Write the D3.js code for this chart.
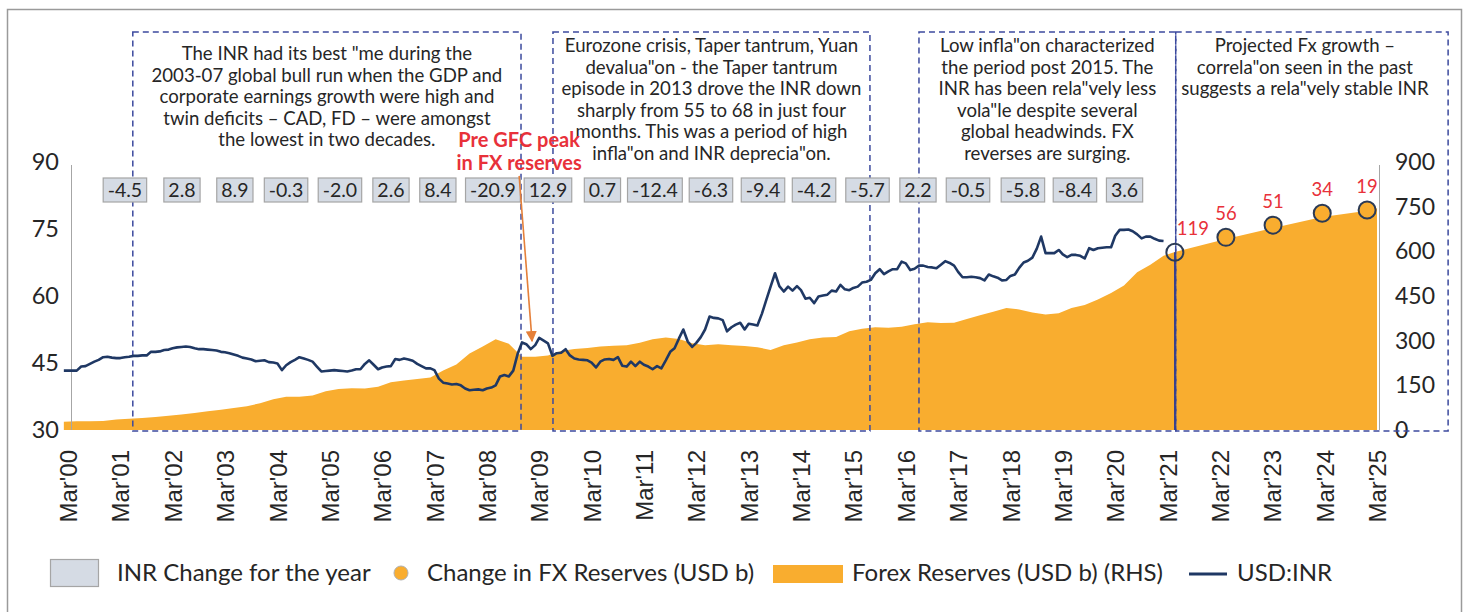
<!DOCTYPE html>
<html><head><meta charset="utf-8">
<script src="https://cdn.jsdelivr.net/npm/d3@7"></script>
<style>
html,body{margin:0;padding:0;background:#fff;}
svg{display:block;}
</style></head>
<body><svg id="chart" width="1466" height="612"></svg>
<script>
// ================= DATA =================
// USD:INR, monthly, starting Feb 2000
const inrStart = "2000-02";
const inrValues = [
  43.3,43.3,43.3,43.3,44.2,44.3,44.8,45.3,45.7,46.3,46.4,            // 2000 Feb-Dec
  46.2,46.1,46.1,46.3,46.4,46.6,46.6,46.7,46.7,47.5,47.5,47.6,       // 2001
  47.9,48.0,48.3,48.5,48.6,48.7,48.6,48.3,48.1,48.1,48.0,47.9,       // 2002
  47.8,47.5,47.4,47.2,46.9,46.6,46.2,46.0,45.8,45.4,45.5,45.6,       // 2003
  45.2,45.1,44.9,43.4,44.5,45.2,45.7,46.3,46.0,45.7,45.3,44.2,       // 2004
  43.1,43.2,43.3,43.4,43.3,43.2,43.1,43.3,43.6,43.6,44.8,45.6,       // 2005
  44.6,43.6,44.0,44.2,44.3,45.9,45.7,46.0,45.8,45.5,44.8,44.3,       // 2006
  43.8,43.8,43.4,41.5,40.6,40.4,40.2,40.3,40.0,39.3,38.9,39.0,       // 2007
  39.1,38.9,39.3,39.5,40.0,42.0,42.3,42.0,43.3,47.0,49.6,49.2,       // 2008
  48.1,49.0,50.6,50.0,49.4,46.6,47.2,47.3,48.1,46.7,46.0,45.8,       // 2009
  45.7,45.6,45.1,44.0,45.3,45.8,45.9,45.7,46.3,44.4,44.2,45.3,       // 2010
  44.3,45.3,44.6,44.2,43.6,44.3,43.8,45.6,47.5,48.3,50.5,52.5,       // 2011
  49.8,48.6,49.5,50.8,52.5,55.4,55.1,55.0,54.6,52.1,53.0,53.6,       // 2012
  54.0,52.5,53.8,53.6,53.4,56.0,59.0,62.1,65.1,62.2,61.0,62.1,       // 2013
  61.2,62.2,61.3,59.4,59.6,58.4,59.9,60.1,60.3,61.2,61.0,62.5,       // 2014
  61.5,61.3,61.8,62.1,63.0,63.2,63.6,65.1,66.0,64.9,65.5,66.0,       // 2015
  66.0,67.7,67.3,65.8,66.1,66.8,66.8,66.5,66.4,66.2,67.0,67.8,       // 2016
  67.4,66.8,65.4,64.2,64.2,64.3,64.2,64.0,63.5,64.8,64.4,64.1,       // 2017
  63.5,63.6,64.5,64.8,66.3,67.5,67.9,68.6,70.6,73.3,69.6,69.6,       // 2018
  69.6,70.3,69.3,68.7,69.2,69.2,69.0,68.4,70.7,70.3,70.7,70.8,       // 2019
  70.9,70.9,73.5,74.8,74.8,74.9,74.5,73.8,72.9,73.3,73.3,72.8,       // 2020
  72.4,72.3                                                          // 2021 Jan-Feb
];

// Forex reserves (USD b), every 3 months starting Feb 2000
const reserveStart = "2000-02";
const reserveStepMonths = 3;
const reserveValues = [
  28,29,29,30, 35,38,40,44, 48,52,57,63, 68,74,80,90, 103,112,112,116,
  130,138,140,139, 145,160,166,171, 176,200,220,257, 280,305,290,246,
  246,250,265,272, 275,280,283,285, 293,305,311,306, 291,285,288,285,
  282,278,269,285, 294,305,311,312, 332,340,345,343, 347,355,362,359,
  360,373,385,397, 410,405,395,388, 392,410,420,438, 460,485,530,555, 585
];
// Projected forex reserves (area continuation)
const reserveProjDates = ["2021-04-21","2022-04-12","2023-03-07","2024-02-13","2024-12-22","2025-03-01"];
const reserveProjValues = [598, 641, 678, 715, 736, 745];

// Change in FX reserves (USD b): marker positions and labels
const fxChangeDates = ["2021-04-21","2022-04-12","2023-03-07","2024-02-13","2024-12-22"];
const fxChangeLevels = [597, 647, 688, 728, 739];
const fxChangeLabels = [119, 56, 51, 34, 19];

// INR change for the year (%), one box per fiscal year
const inrChangeDates = ["2001-04-02","2002-05-05","2003-05-09","2004-04-30","2005-05-11",
                        "2006-05-02","2007-03-25","2008-04-12","2009-05-01","2010-05-16",
                        "2011-05-17","2012-06-11","2013-06-09","2014-05-31","2015-06-08",
                        "2016-05-25","2017-05-09","2018-05-27","2019-05-25","2020-05-05"];
const inrChangeValues = [-4.5,2.8,8.9,-0.3,-2.0,2.6,8.4,-20.9,12.9,0.7,
                         -12.4,-6.3,-9.4,-4.2,-5.7,2.2,-0.5,-5.8,-8.4,3.6];

// Axis ticks
const tickYears = d3.range(2000, 2026);
const leftTicks = [30,45,60,75,90];
const rightTicks = [0,150,300,450,600,750,900];

// Period annotations
const noteStarts = ["2001-05-27","2009-06-05","2016-06-01","2021-04-27"];
const noteEnds   = ["2008-10-25","2015-06-25","2021-04-27","2026-07-10"];
const noteLines = [
  ["The INR had its best \"me during the","2003-07 global bull run when the GDP and","corporate earnings growth were high and","twin deficits \u2013 CAD, FD \u2013 were amongst","the lowest in two decades."],
  ["Eurozone crisis, Taper tantrum, Yuan","devalua\"on - the Taper tantrum","episode in 2013 drove the INR down","sharply from 55 to 68 in just four","months. This was a period of high","infla\"on and INR deprecia\"on."],
  ["Low infla\"on characterized","the period post 2015. The","INR has been rela\"vely less","vola\"le despite several","global headwinds. FX","reverses are surging."],
  ["Projected Fx growth \u2013","correla\"on seen in the past","suggests a rela\"vely stable INR"]
];
const gfcLabel = ["Pre GFC peak","in FX reserves"];

// ================= STYLE =================
const C = {
  orange: "#F9AD2F", navy: "#1F3864", dash: "#3C4A9E", red: "#E8313A",
  arrow: "#E5803A", boxFill: "#D5DBE4", boxStroke: "#A5A5A5", text: "#262626",
  axis: "#A6A6A6", frame: "#9A9A9A", marker: "#2B3A55"
};
const FONT = "Lato, 'Noto Sans', sans-serif";

// ================= CHART =================
const svg = d3.select("#chart");
const pM = d3.timeParse("%Y-%m"), pD = d3.timeParse("%Y-%m-%d");

const x = d3.scaleTime().domain([new Date(2000,2,1), new Date(2025,2,1)]).range([68, 1377]);
const yL = d3.scaleLinear().domain([30,90]).range([430,162]);
const yR = d3.scaleLinear().domain([0,900]).range([430,162]);
const yBottom = 430;

// frame
svg.append("path").attr("d","M7.5,615V9.5H1461.5V615").attr("fill","none")
  .attr("stroke",C.frame).attr("stroke-width",1.5);

// area: forex reserves
const inrData = inrValues.map((v,i)=>({date:d3.timeMonth.offset(pM(inrStart), i), v}));
const resData = reserveValues.map((v,i)=>({date:d3.timeMonth.offset(pM(reserveStart), i*reserveStepMonths), v}))
  .concat(reserveProjValues.map((v,i)=>({date:pD(reserveProjDates[i]), v})));

svg.append("path").datum(resData)
  .attr("fill", C.orange)
  .attr("d", d3.area().x(d=>x(d.date)).y0(yR(0)).y1(d=>yR(d.v)));

// axes
const gL = svg.append("g").attr("transform","translate(71,0)")
  .call(d3.axisLeft(yL).tickValues(leftTicks).tickSize(0).tickPadding(12));
gL.select(".domain").attr("stroke",C.axis).attr("d","M0.5,430V165");
gL.selectAll("text").attr("font-family",FONT).attr("font-size",23.5).attr("fill",C.text);

const gR = svg.append("g").attr("transform","translate(1379,0)")
  .call(d3.axisRight(yR).tickValues(rightTicks).tickSize(0).tickPadding(16));
gR.select(".domain").attr("stroke",C.axis).attr("d","M0.5,430V165");
gR.selectAll("text").attr("font-family",FONT).attr("font-size",23).attr("fill",C.text);

const gB = svg.append("g").attr("transform",`translate(0,${yBottom})`)
  .call(d3.axisBottom(x).tickValues(tickYears.map(y=>new Date(y,2,1)))
    .tickFormat(d=>"Mar'"+d3.timeFormat("%y")(d)).tickSize(0));
gB.select(".domain").remove();
gB.selectAll("text")
  .attr("font-family","'Liberation Sans', Arial, sans-serif").attr("font-size",24).attr("fill",C.text)
  .attr("text-anchor","end").attr("transform","rotate(-90)")
  .attr("x",-20).attr("y",0).attr("dy","0.36em");

// dashed period boxes
const gN = svg.append("g");
noteStarts.forEach((s,i)=>{
  const x0 = x(pD(s)), x1 = x(pD(noteEnds[i]));
  gN.append("rect").attr("x",x0).attr("y",32).attr("width",x1-x0).attr("height",yBottom+1-32)
    .attr("fill","none").attr("stroke",C.dash).attr("stroke-width",1.5).attr("stroke-dasharray","6,4");
  const cx = (x0+x1)/2 + (i===3 ? -7 : 0);
  const firstBase = i===0 ? 60 : 52;
  const t = gN.append("text").attr("font-family",FONT).attr("font-size",18.6).attr("fill",C.text)
    .attr("text-anchor","middle");
  noteLines[i].forEach((ln,j)=>{
    t.append("tspan").attr("x",cx).attr("y",firstBase + j*21.5).text(ln);
  });
});

// USD:INR line
svg.append("path").datum(inrData)
  .attr("fill","none").attr("stroke",C.navy).attr("stroke-width",2.6).attr("stroke-linejoin","round")
  .attr("d", d3.line().x(d=>x(d.date)).y(d=>yL(d.v)));

// INR change boxes
const gBox = svg.append("g");
inrChangeValues.forEach((v,i)=>{
  const cx = x(pD(inrChangeDates[i]));
  const g = gBox.append("g");
  const rect = g.append("rect");
  const t = g.append("text").attr("x",cx).attr("y",190).attr("dy","0.35em")
    .attr("text-anchor","middle").attr("font-family",FONT).attr("font-size",19.5).attr("fill",C.text)
    .text(v.toFixed(1));
  const w = t.node().getComputedTextLength() + 9;
  rect.attr("x",cx-w/2).attr("y",178).attr("width",w).attr("height",24)
    .attr("fill",C.boxFill).attr("stroke",C.boxStroke).attr("stroke-width",1.2);
});

// GFC annotation arrow
const defs = svg.append("defs");
defs.append("marker").attr("id","arr").attr("viewBox","0 0 10 10").attr("refX",9).attr("refY",5)
  .attr("markerWidth",7).attr("markerHeight",7).attr("orient","auto-start-reverse")
  .append("path").attr("d","M0,0L10,5L0,10z").attr("fill",C.arrow);
const aStart = {date:new Date(2008,9,12), v:86.9}, aEnd = {date:new Date(2009,0,10), v:49.9};
svg.append("line").attr("x1",x(aStart.date)).attr("y1",yL(aStart.v))
  .attr("x2",x(aEnd.date)).attr("y2",yL(aEnd.v))
  .attr("stroke",C.arrow).attr("stroke-width",1.6).attr("marker-end","url(#arr)");
const gfcT = svg.append("text").attr("font-family",FONT).attr("font-size",20).attr("font-weight","bold")
  .attr("fill",C.red).attr("text-anchor","middle");
gfcLabel.forEach((ln,j)=>gfcT.append("tspan").attr("x",x(aStart.date)).attr("y",147+j*23).text(ln));

// projected FX change markers
const fxData = fxChangeDates.map((d,i)=>({date:pD(d), v:fxChangeLevels[i], lab:fxChangeLabels[i]}));
svg.append("line").attr("x1",x(fxData[0].date)).attr("x2",x(fxData[0].date))
  .attr("y1",yR(fxData[0].v)).attr("y2",yBottom).attr("stroke","#2F3A8F").attr("stroke-width",1.6);
svg.selectAll(".fxc").data(fxData).join("circle")
  .attr("cx",d=>x(d.date)).attr("cy",d=>yR(d.v)).attr("r",8.5)
  .attr("fill",(d,i)=>i===0?"none":C.orange).attr("stroke",C.marker).attr("stroke-width",2);
svg.selectAll(".fxl").data(fxData).join("text")
  .attr("x",(d,i)=>x(d.date)+(i===0?2:0)).attr("y",d=>yR(d.v)-17)
  .attr("text-anchor",(d,i)=>i===0?"start":"middle")
  .attr("font-family",FONT).attr("font-size",18.5).attr("fill",C.red)
  .text(d=>d.lab);

// legend
const lg = svg.append("g").attr("font-family",FONT).attr("font-size",24).attr("fill",C.text);
lg.append("rect").attr("x",50.5).attr("y",559.5).attr("width",48).attr("height",27)
  .attr("fill",C.boxFill).attr("stroke",C.boxStroke).attr("stroke-width",1.2);
lg.append("text").attr("x",117).attr("y",573).attr("dy","0.35em").text("INR Change for the year");
lg.append("circle").attr("cx",401).attr("cy",573).attr("r",7).attr("fill",C.orange).attr("stroke","#B0B0B0").attr("stroke-width",1);
lg.append("text").attr("x",427).attr("y",573).attr("dy","0.35em").text("Change in FX Reserves (USD b)");
lg.append("rect").attr("x",773).attr("y",565).attr("width",70).attr("height",18).attr("fill",C.orange);
lg.append("text").attr("x",852).attr("y",573).attr("dy","0.35em").text("Forex Reserves (USD b) (RHS)");
lg.append("line").attr("x1",1189).attr("x2",1227).attr("y1",574).attr("y2",574).attr("stroke",C.navy).attr("stroke-width",3);
lg.append("text").attr("x",1237).attr("y",573).attr("dy","0.35em").text("USD:INR");
</script>
</body></html>
